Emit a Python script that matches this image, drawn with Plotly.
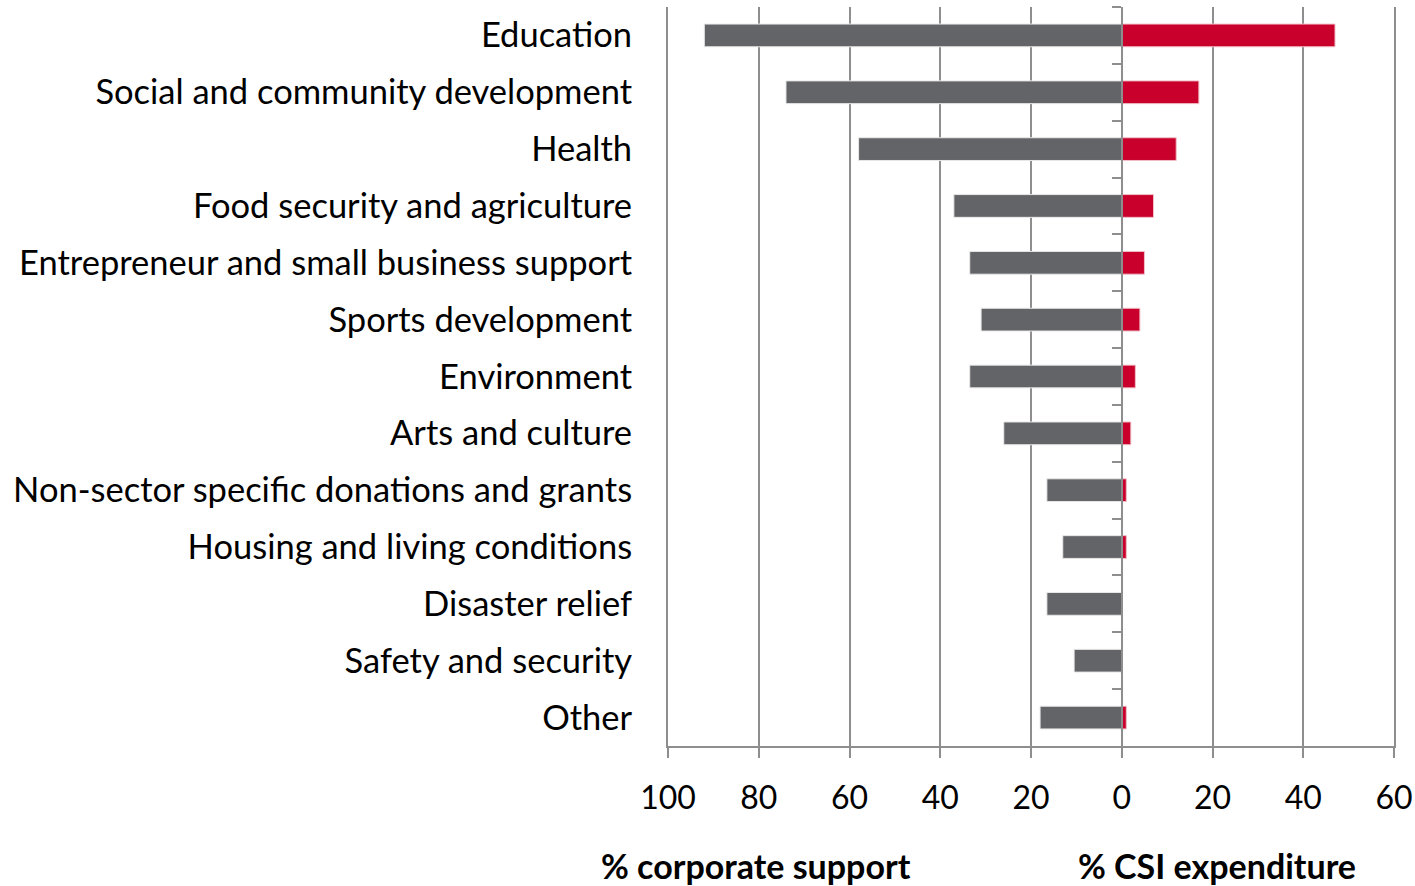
import plotly.graph_objects as go

categories = ["Education", "Social and community development", "Health",
              "Food security and agriculture", "Entrepreneur and small business support",
              "Sports development", "Environment", "Arts and culture",
              "Non-sector specific donations and grants", "Housing and living conditions",
              "Disaster relief", "Safety and security", "Other"]
corporate_support = [92, 74, 58, 37, 33.5, 31, 33.5, 26, 16.5, 13, 16.5, 10.5, 18]
csi_expenditure = [47, 17, 12, 7, 5, 4, 3, 2, 1, 1, 0, 0, 1]
tick_vals = [-100, -80, -60, -40, -20, 0, 20, 40, 60]
tick_text = ["100", "80", "60", "40", "20", "0", "20", "40", "60"]

GREY = "#636468"
RED = "#C8002B"
LINE = "#8e8e8e"
FONT = "Lato"

fig = go.Figure()
fig.add_trace(go.Bar(
    y=categories, x=[-v for v in corporate_support], orientation="h",
    marker=dict(color=GREY, line=dict(color="#e8e8e8", width=1)),
    width=0.4, yaxis="y2", name="% corporate support", showlegend=False,
))
fig.add_trace(go.Bar(
    y=categories, x=csi_expenditure, orientation="h",
    marker=dict(color=RED, line=dict(color="#f0c0c8", width=1)),
    width=0.4, yaxis="y", name="% CSI expenditure", showlegend=False,
))

fig.update_layout(
    width=1415, height=886,
    margin=dict(l=668, r=21, t=7, b=140, autoexpand=False),
    paper_bgcolor="white", plot_bgcolor="white",
    barmode="relative",
    font=dict(family=FONT, color="black"),
    xaxis=dict(
        range=[-100, 60], tickvals=tick_vals, ticktext=tick_text,
        showgrid=True, gridcolor=LINE, gridwidth=2,
        zeroline=False, showline=True, linecolor=LINE, linewidth=2,
        ticks="outside", ticklen=10, tickcolor=LINE, tickwidth=2,
        tickfont=dict(size=32, family=FONT), ticklabelstandoff=13,
        mirror=False, automargin=False,
    ),
    yaxis=dict(
        categoryorder="array", categoryarray=categories, autorange="reversed",
        showgrid=False, zeroline=False, showline=True, linecolor=LINE, linewidth=2,
        mirror=True, ticks="",
        tickfont=dict(size=34.5, family=FONT), ticklabelstandoff=27, automargin=False,
    ),
    yaxis2=dict(
        overlaying="y", anchor="free", position=100 / 160, matches="y",
        showgrid=False, zeroline=False, showline=True, linecolor=LINE, linewidth=2,
        ticks="outside", tickson="boundaries", ticklen=9, tickcolor=LINE, tickwidth=2,
        showticklabels=False, automargin=False,
    ),
    annotations=[
        dict(text="<b>% corporate support</b>", x=-80.5, xref="x", y=-0.162, yref="paper",
             showarrow=False, font=dict(size=34, family=FONT), xanchor="center", yanchor="middle"),
        dict(text="<b>% CSI expenditure</b>", x=21, xref="x", y=-0.162, yref="paper",
             showarrow=False, font=dict(size=34, family=FONT), xanchor="center", yanchor="middle"),
    ],
)

fig.write_html("out.html", config={"displayModeBar": False},
               post_script="document.body.style.margin='0';document.body.style.overflow='hidden';")
